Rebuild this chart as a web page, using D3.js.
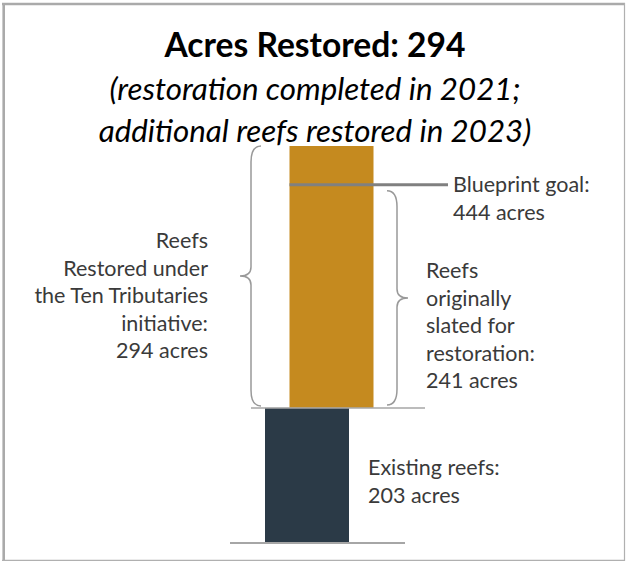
<!DOCTYPE html>
<html>
<head>
<meta charset="utf-8">
<script src="https://cdn.jsdelivr.net/npm/d3@7"></script>
<style>
  html, body { margin: 0; padding: 0; background: #fff; }
  svg { display: block; }
</style>
</head>
<body>
<svg id="chart" width="626" height="561"></svg>
<script>
// Stacked reef acreage
const segments = ["Existing reefs", "Ten Tributaries restoration"];
const acres = [203, 294];
const blueprintGoal = 444;
const originallySlated = 241;

const titleText = "Acres Restored: 294";
const subtitleLines = ["(restoration completed in 2021;", "additional reefs restored in 2023)"];
const leftLabel = ["Reefs", "Restored under", "the Ten Tributaries", "initiative:", "294 acres"];
const rightLabel = ["Reefs", "originally", "slated for", "restoration:", "241 acres"];
const goalLabel = ["Blueprint goal:", "444 acres"];
const existingLabel = ["Existing reefs:", "203 acres"];

const colors = ["#2b3a47", "#c58a1f"];
const font = "Lato, 'Open Sans', sans-serif";
const ink = "#3a3a3a";
const rule = "#a6a6a6";

const svg = d3.select("#chart");
const W = 626, H = 561;

// frame
svg.append("line").attr("x1", 2).attr("x2", 625).attr("y1", 4).attr("y2", 4)
  .attr("stroke", "#aaa").attr("stroke-width", 2.6);
svg.append("line").attr("x1", 3.7).attr("x2", 3.7).attr("y1", 3).attr("y2", 561)
  .attr("stroke", "#aaa").attr("stroke-width", 2.6);
svg.append("line").attr("x1", 624.5).attr("x2", 624.5).attr("y1", 3).attr("y2", 561)
  .attr("stroke", "#b0b0b0").attr("stroke-width", 1.2);
svg.append("line").attr("x1", 2).attr("x2", 625).attr("y1", 560.3).attr("y2", 560.3)
  .attr("stroke", "#b0b0b0").attr("stroke-width", 1.2);

// titles
svg.append("text").attr("x", 315).attr("y", 57).attr("text-anchor", "middle")
  .attr("font-family", font).attr("font-weight", 700).attr("font-size", 33.6)
  .attr("fill", "#000").text(titleText);
svg.append("g").selectAll("text").data(subtitleLines).join("text")
  .attr("x", 315).attr("y", (d, i) => 100 + i * 42).attr("text-anchor", "middle")
  .attr("font-family", font).attr("font-style", "italic").attr("font-size", 31.3)
  .attr("fill", "#000").text(d => d);

// scales: the axis floor sits above zero, so the existing-reef bar is truncated
const plotTop = 146, plotBottom = 543;
const yMin = 57, yMax = 486;
const y = d3.scaleLinear().domain([yMin, yMax]).range([plotBottom, plotTop]);
const x = d3.scalePoint().domain(segments).range([307, 331.5]);
const barW = 84;

// stack the segments
const stacked = [];
let acc = 0;
acres.forEach((v, i) => { stacked.push({ key: segments[i], y0: acc, y1: acc + v, color: colors[i] }); acc += v; });
const total = acc;

svg.append("defs").append("clipPath").attr("id", "plot")
  .append("rect").attr("x", 0).attr("y", plotTop).attr("width", W).attr("height", plotBottom - plotTop);

svg.append("g").attr("clip-path", "url(#plot)")
  .selectAll("rect").data(stacked).join("rect")
  .attr("x", d => x(d.key) - barW / 2)
  .attr("width", barW)
  .attr("y", d => y(Math.max(d.y1, yMin)))
  .attr("height", d => y(Math.max(d.y0, yMin)) - y(Math.max(d.y1, yMin)))
  .attr("fill", d => d.color);

// baseline and division rule
svg.append("line").attr("x1", 230).attr("x2", 405)
  .attr("y1", y(yMin)).attr("y2", y(yMin)).attr("stroke", rule).attr("stroke-width", 2);
svg.append("line").attr("x1", 251).attr("x2", 425)
  .attr("y1", y(acres[0])).attr("y2", y(acres[0])).attr("stroke", rule).attr("stroke-width", 1.5);

// blueprint goal marker
const goalBarLeft = x(segments[1]) - barW / 2;
svg.append("line").attr("x1", goalBarLeft).attr("x2", 448)
  .attr("y1", y(blueprintGoal)).attr("y2", y(blueprintGoal))
  .attr("stroke", "#808080").attr("stroke-width", 3);

// curly braces
function bracePath(xv, y0, y1, dir) {
  const endX = xv - dir * 10, tipX = xv + dir * 11, ym = (y0 + y1) / 2;
  return `M${endX},${y0} Q${xv},${y0} ${xv},${y0 + 16} L${xv},${ym - 9} Q${xv},${ym} ${tipX},${ym}` +
         ` Q${xv},${ym} ${xv},${ym + 9} L${xv},${y1 - 16} Q${xv},${y1} ${endX},${y1}`;
}
const leftTop = y(Math.min(total, yMax));
svg.append("path").attr("d", bracePath(251, leftTop, y(acres[0]) - 2, -1))
  .attr("fill", "none").attr("stroke", "#999").attr("stroke-width", 1.5);
svg.append("path").attr("d", bracePath(397, y(acres[0] + originallySlated) + 6, y(acres[0]) - 3, 1))
  .attr("fill", "none").attr("stroke", "#999").attr("stroke-width", 1.5);

// annotation text
function block(lines, xp, y0, anchor) {
  svg.append("g").selectAll("text").data(lines).join("text")
    .attr("x", xp).attr("y", (d, i) => y0 + i * 27.5)
    .attr("text-anchor", anchor)
    .attr("font-family", font).attr("font-size", 21.5).attr("fill", ink)
    .text(d => d);
}
block(leftLabel, 208, 248, "end");
block(rightLabel, 426, 278, "start");
block(goalLabel, 453, 192, "start");
block(existingLabel, 368, 475, "start");
</script>
</body>
</html>
